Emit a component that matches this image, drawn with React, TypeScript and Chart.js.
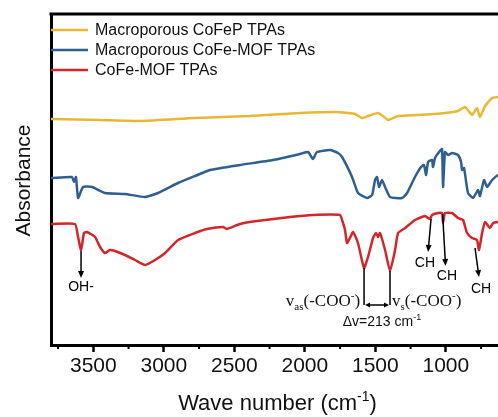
import React, { useEffect, useRef } from "react";
import { Chart, registerables } from "chart.js";
Chart.register(...registerables);

// ---- data (wavenumber in cm-1, absorbance in arbitrary units, offset stacked) ----
const waveYellow = [3800, 3793, 3452, 3155, 2779, 2389, 2034, 1786, 1694, 1644, 1594, 1552, 1481, 1446, 1410, 1339, 1197, 1006, 914, 864, 814, 779, 758, 722, 672, 630, 600];
const absYellow = [2.27, 2.27, 2.26, 2.25, 2.28, 2.30, 2.33, 2.34, 2.33, 2.32, 2.28, 2.30, 2.33, 2.30, 2.26, 2.30, 2.31, 2.33, 2.35, 2.39, 2.31, 2.38, 2.29, 2.40, 2.48, 2.49, 2.50];

const waveBlue = [3800, 3793, 3651, 3637, 3623, 3608, 3573, 3509, 3417, 3275, 3133, 3041, 2899, 2779, 2672, 2460, 2226, 2034, 1977, 1942, 1914, 1821, 1765, 1736, 1665, 1623, 1559, 1523, 1502, 1488, 1474, 1453, 1431, 1396, 1311, 1275, 1219, 1176, 1155, 1140, 1126, 1098, 1091, 1077, 1048, 1027, 1020, 1006, 984, 956, 914, 892, 885, 871, 843, 807, 772, 758, 729, 708, 672, 630, 600];
const absBlue = [1.68, 1.68, 1.69, 1.64, 1.69, 1.48, 1.59, 1.59, 1.53, 1.52, 1.49, 1.53, 1.63, 1.70, 1.76, 1.81, 1.86, 1.92, 1.94, 1.87, 1.94, 1.96, 1.93, 1.89, 1.69, 1.53, 1.48, 1.51, 1.66, 1.69, 1.59, 1.66, 1.59, 1.49, 1.48, 1.53, 1.69, 1.79, 1.81, 1.71, 1.84, 1.86, 1.79, 1.88, 1.94, 1.97, 1.59, 1.94, 1.91, 1.93, 1.91, 1.84, 1.76, 1.78, 1.53, 1.48, 1.56, 1.50, 1.66, 1.59, 1.66, 1.71, 1.72];

const waveRed = [3800, 3793, 3630, 3608, 3587, 3566, 3545, 3488, 3452, 3417, 3382, 3346, 3275, 3204, 3133, 3062, 2991, 2899, 2779, 2694, 2580, 2552, 2460, 2339, 2105, 1942, 1750, 1736, 1715, 1701, 1680, 1658, 1623, 1580, 1552, 1516, 1495, 1481, 1467, 1431, 1396, 1360, 1339, 1289, 1219, 1148, 1126, 1112, 1098, 1055, 1027, 1020, 1006, 956, 914, 878, 850, 814, 779, 765, 743, 722, 687, 665, 630, 600];
const absRed = [1.22, 1.22, 1.22, 1.09, 0.96, 1.13, 1.14, 1.09, 0.99, 0.93, 0.96, 0.95, 0.91, 0.86, 0.81, 0.86, 0.93, 1.06, 1.13, 1.17, 1.19, 1.17, 1.22, 1.25, 1.29, 1.31, 1.31, 1.26, 1.16, 1.03, 1.08, 1.14, 1.03, 0.78, 0.89, 1.08, 1.13, 1.09, 1.13, 0.96, 0.75, 0.96, 1.13, 1.18, 1.26, 1.30, 1.28, 1.27, 1.31, 1.33, 1.33, 1.23, 1.33, 1.33, 1.28, 1.26, 1.13, 1.08, 1.06, 0.96, 1.13, 1.24, 1.18, 1.23, 1.24, 1.24];

const seriesNames = ["Macroporous CoFeP TPAs", "Macroporous CoFe-MOF TPAs", "CoFe-MOF TPAs"];
const seriesColors = ["#E8B835", "#2F5F8F", "#D2262B"];

const majorTicks = [3500, 3000, 2500, 2000, 1500, 1000];
const minorTicks = [3750, 3250, 2750, 2250, 1750, 1250, 750];
const xMin = 616;
const xMax = 3800;
const yMin = 0.01;
const yMax = 3.32;

// peak annotations: arrow from -> to (data coords), label position
const peakLabels = ["OH-", "CH", "CH", "CH"];
const peakFrom = [[3587, 0.95], [1105, 1.27], [1023, 1.32], [793, 0.98]];
const peakTo = [[3587, 0.68], [1126, 0.94], [1002, 0.80], [765, 0.69]];
const peakText = [[3587, 0.59], [1148, 0.83], [992, 0.70], [750, 0.57]];

// carboxylate splitting bracket
const vasPeak = [1580, 0.78];
const vsPeak = [1396, 0.75];
const bracketLevel = 0.41;
const deltaLabel = "\u0394v=213 cm";
const deltaPos = [1453, 0.25];

const SANS = "'Liberation Sans', Arial, sans-serif";
const SERIF = "'Liberation Serif', 'Times New Roman', serif";

function arrow(ctx: CanvasRenderingContext2D, x1: number, y1: number, x2: number, y2: number, head = 7, half = 3) {
  const ang = Math.atan2(y2 - y1, x2 - x1);
  const bx = x2 - head * Math.cos(ang);
  const by = y2 - head * Math.sin(ang);
  ctx.beginPath();
  ctx.moveTo(x1, y1);
  ctx.lineTo(bx, by);
  ctx.stroke();
  ctx.beginPath();
  ctx.moveTo(x2, y2);
  ctx.lineTo(bx + half * Math.sin(ang), by - half * Math.cos(ang));
  ctx.lineTo(bx - half * Math.sin(ang), by + half * Math.cos(ang));
  ctx.closePath();
  ctx.fill();
}

// draw text with sub/superscript parts: parts = [text, mode] mode: 0 normal, 1 sub, 2 sup
function richText(ctx: CanvasRenderingContext2D, parts: [string, number][], x: number, y: number, size: number, family: string, align: "left" | "right" | "center") {
  const widths = parts.map(([t, m]) => {
    ctx.font = `${m ? Math.round(size * 0.62) : size}px ${family}`;
    return ctx.measureText(t).width;
  });
  const total = widths.reduce((a, b) => a + b, 0);
  let cx = align === "left" ? x : align === "right" ? x - total : x - total / 2;
  ctx.textAlign = "left";
  ctx.textBaseline = "alphabetic";
  parts.forEach(([t, m], i) => {
    ctx.font = `${m ? Math.round(size * 0.62) : size}px ${family}`;
    const dy = m === 1 ? size * 0.25 : m === 2 ? -size * 0.4 : 0;
    ctx.fillText(t, cx, y + dy);
    cx += widths[i];
  });
}

const decorPlugin = {
  id: "decor",
  afterDraw(chart: any) {
    const { ctx, chartArea, scales } = chart;
    const xs = scales.x;
    const ys = scales.y;
    const px = (v: number) => xs.getPixelForValue(v);
    const py = (v: number) => ys.getPixelForValue(v);
    ctx.save();
    // top frame
    ctx.strokeStyle = "#000";
    ctx.lineWidth = 3;
    ctx.beginPath();
    ctx.moveTo(chartArea.left - 1.5, chartArea.top);
    ctx.lineTo(chart.width, chartArea.top);
    ctx.stroke();
    // minor ticks
    ctx.lineWidth = 2;
    minorTicks.forEach((v) => {
      const x = px(v);
      ctx.beginPath();
      ctx.moveTo(x, chartArea.bottom);
      ctx.lineTo(x, chartArea.bottom + 4);
      ctx.stroke();
    });
    // legend
    seriesNames.forEach((name, i) => {
      const y = chartArea.top + 16 + i * 20;
      ctx.strokeStyle = seriesColors[i];
      ctx.lineWidth = 2.5;
      ctx.beginPath();
      ctx.moveTo(chartArea.left, y);
      ctx.lineTo(chartArea.left + 37, y);
      ctx.stroke();
      ctx.fillStyle = "#111";
      ctx.font = `16px ${SANS}`;
      ctx.textAlign = "left";
      ctx.textBaseline = "middle";
      ctx.fillText(name, chartArea.left + 44, y + 1);
    });
    // axis titles
    ctx.fillStyle = "#111";
    richText(ctx, [["Wave number (cm", 0], ["-1", 2], [")", 0]], (chartArea.left + chartArea.right) / 2 + 2, 410, 22, SANS, "center");
    ctx.save();
    ctx.translate(30, (chartArea.top + chartArea.bottom) / 2 + 1);
    ctx.rotate(-Math.PI / 2);
    ctx.font = `21px ${SANS}`;
    ctx.textAlign = "center";
    ctx.textBaseline = "alphabetic";
    ctx.fillText("Absorbance", 0, 0);
    ctx.restore();
    // peak arrows
    ctx.strokeStyle = "#000";
    ctx.fillStyle = "#000";
    ctx.lineWidth = 1.5;
    peakLabels.forEach((lab, i) => {
      arrow(ctx, px(peakFrom[i][0]), py(peakFrom[i][1]), px(peakTo[i][0]), py(peakTo[i][1]));
      ctx.font = `14px ${SANS}`;
      ctx.textAlign = "center";
      ctx.textBaseline = "middle";
      ctx.fillText(lab, px(peakText[i][0]), py(peakText[i][1]));
    });
    // bracket
    const xa = px(vasPeak[0]);
    const xb = px(vsPeak[0]);
    const yl = py(bracketLevel);
    ctx.beginPath();
    ctx.moveTo(xa, py(vasPeak[1]));
    ctx.lineTo(xa, yl);
    ctx.moveTo(xb, py(vsPeak[1]));
    ctx.lineTo(xb, yl);
    ctx.stroke();
    arrow(ctx, (xa + xb) / 2, yl, xa + 1, yl, 5, 2.5);
    arrow(ctx, (xa + xb) / 2, yl, xb - 1, yl, 5, 2.5);
    ctx.fillStyle = "#111";
    richText(ctx, [["v", 0], ["as", 1], ["(-COO", 0], ["-", 2], [")", 0]], xa - 4, yl + 1, 17, SERIF, "right");
    richText(ctx, [["v", 0], ["s", 1], ["(-COO", 0], ["-", 2], [")", 0]], xb + 2, yl + 1, 17, SERIF, "left");
    richText(ctx, [[deltaLabel, 0], ["-1", 2]], px(deltaPos[0]), py(deltaPos[1]) + 5, 14, SANS, "center");
    ctx.restore();
  },
};

function toPoints(xs: number[], ys: number[]) {
  return xs.map((x, i) => ({ x, y: ys[i] }));
}

export default function App() {
  const ref = useRef<HTMLCanvasElement | null>(null);
  useEffect(() => {
    document.documentElement.style.overflow = "hidden";
    document.body.style.overflow = "hidden";
    const canvas = ref.current!;
    const datasets = [
      toPoints(waveYellow, absYellow),
      toPoints(waveBlue, absBlue),
      toPoints(waveRed, absRed),
    ].map((data, i) => ({
      label: seriesNames[i],
      data,
      borderColor: seriesColors[i],
      backgroundColor: seriesColors[i],
      borderWidth: 2.5,
      pointRadius: 0,
      tension: 0.15,
      fill: false,
    }));
    const chart = new Chart(canvas, {
      type: "line",
      data: { datasets },
      options: {
        responsive: false,
        animation: false,
        events: [],
        layout: { padding: { top: 14, right: 2, left: 0, bottom: 0 } },
        plugins: { legend: { display: false }, tooltip: { enabled: false } },
        scales: {
          x: {
            type: "linear",
            reverse: true,
            min: xMin,
            max: xMax,
            afterBuildTicks: (s: any) => {
              s.ticks = majorTicks.map((v) => ({ value: v }));
            },
            afterFit: (s: any) => {
              s.height = 72;
            },
            grid: { display: true, drawOnChartArea: false, drawTicks: true, tickLength: 7, tickWidth: 2.5, tickColor: "#000" },
            border: { display: true, color: "#000", width: 3 },
            ticks: { color: "#111", font: { size: 21, family: SANS }, padding: 2, autoSkip: false, maxRotation: 0, callback: (v: any) => String(v) },
          },
          y: {
            type: "linear",
            min: yMin,
            max: yMax,
            afterFit: (s: any) => {
              s.width = 51;
            },
            grid: { display: false },
            border: { display: true, color: "#000", width: 3 },
            ticks: { display: false },
          },
        },
      },
      plugins: [decorPlugin],
    } as any);
    return () => chart.destroy();
  }, []);
  return (
    <div style={{ position: "absolute", left: 0, top: 0, width: 502, height: 417, overflow: "hidden" }}>
      <canvas ref={ref} width={502} height={417} style={{ display: "block", width: 502, height: 417 }} />
    </div>
  );
}
